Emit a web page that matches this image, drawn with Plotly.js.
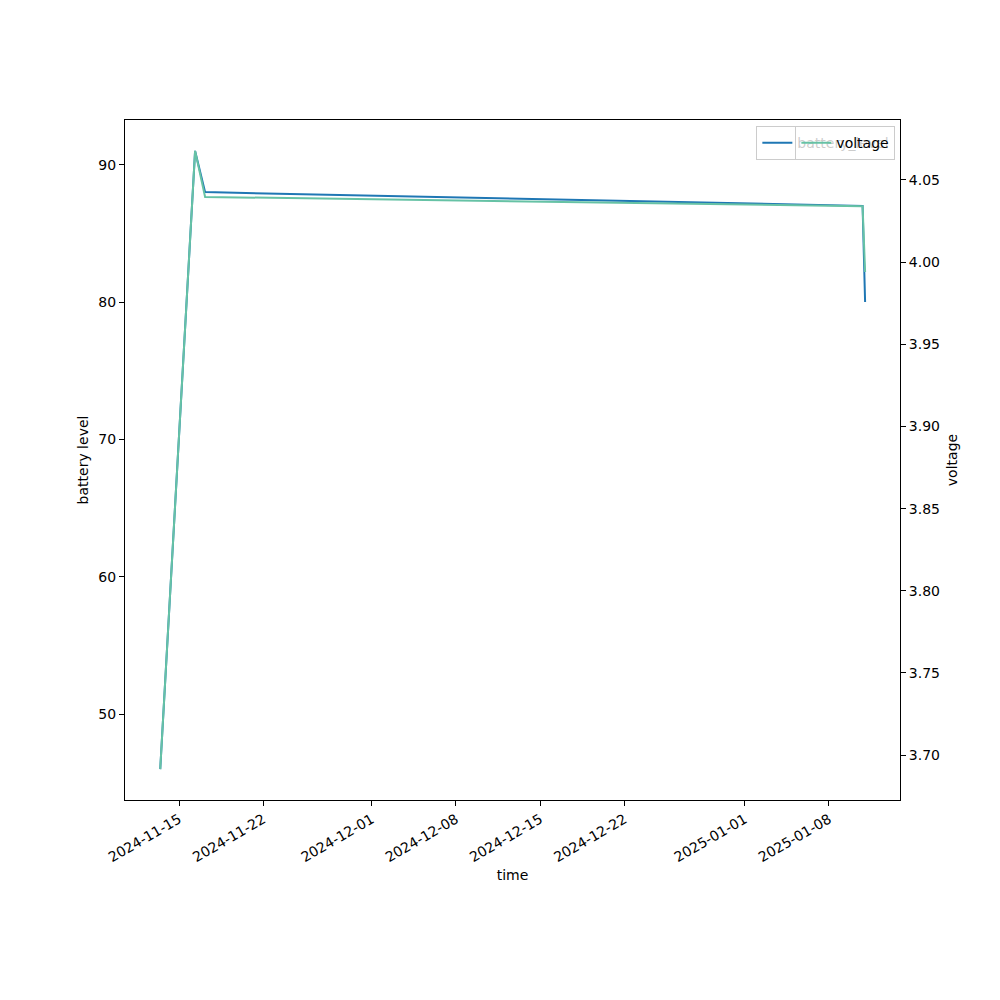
<!DOCTYPE html>
<html>
<head>
<meta charset="utf-8">
<script src="https://cdn.plot.ly/plotly-3.0.1.min.js"></script>
<style>html,body{margin:0;padding:0;background:#fff}#chart{width:1000px;height:1000px}</style>
</head>
<body>
<div id="chart"></div>
<script>
var times = ["2024-11-13 10:30", "2024-11-16 08:00", "2024-11-17 04:00", "2025-01-10 19:00", "2025-01-11 00:00"];
var batteryLevel = [46, 91, 88, 87, 80];
var voltage = [3.6915, 4.0677, 4.0397, 4.0340, 3.994];
var tickDates = ["2024-11-15", "2024-11-22", "2024-12-01", "2024-12-08", "2024-12-15", "2024-12-22", "2025-01-01", "2025-01-08"];
var leftTicks = [50, 60, 70, 80, 90];
var rightTicks = [3.70, 3.75, 3.80, 3.85, 3.90, 3.95, 4.00, 4.05];

var font = {family: "DejaVu Sans", size: 14, color: "#000"};

var traces = [
  {x: times, y: batteryLevel, type: "scatter", mode: "lines", name: "battery_level",
   line: {color: "#1f77b4", width: 2}, yaxis: "y", legend: "legend"},
  {x: times, y: voltage, type: "scatter", mode: "lines", name: "voltage",
   line: {color: "#66c2a5", width: 2}, yaxis: "y2", legend: "legend2"}
];

var layout = {
  width: 1000, height: 1000,
  margin: {l: 125, r: 100, t: 120, b: 200},
  paper_bgcolor: "#fff", plot_bgcolor: "#fff",
  font: font,
  showlegend: true,
  xaxis: {
    type: "date",
    range: ["2024-11-10 12:14", "2025-01-13 21:36"],
    tickvals: tickDates, ticktext: tickDates,
    tickangle: -30,
    ticks: "outside", ticklen: 5, tickwidth: 1, tickcolor: "#000",
    showline: true, linecolor: "#000", linewidth: 1, mirror: true,
    showgrid: false, zeroline: false,
    tickfont: font,
    title: {text: "time", font: font, standoff: 6}
  },
  yaxis: {
    range: [43.75, 93.25],
    tickvals: leftTicks,
    ticks: "outside", ticklen: 5, tickwidth: 1, tickcolor: "#000",
    showline: true, linecolor: "#000", linewidth: 1,
    showgrid: false, zeroline: false,
    tickfont: font,
    title: {text: "battery level", font: font, standoff: 6}
  },
  yaxis2: {
    overlaying: "y", side: "right",
    range: [3.6727, 4.0865],
    tickvals: rightTicks, tickformat: ".2f",
    ticks: "outside", ticklen: 5, tickwidth: 1, tickcolor: "#000",
    showline: true, linecolor: "#000", linewidth: 1,
    showgrid: false, zeroline: false,
    tickfont: font,
    title: {text: "voltage", font: font, standoff: 8}
  },
  legend: {
    x: 0.994, y: 0.991, xanchor: "right", yanchor: "top",
    bgcolor: "rgba(255,255,255,0.8)", bordercolor: "#cccccc", borderwidth: 1,
    font: font, itemwidth: 30
  },
  legend2: {
    x: 0.994, y: 0.991, xanchor: "right", yanchor: "top",
    bgcolor: "rgba(255,255,255,0.8)", bordercolor: "#cccccc", borderwidth: 1,
    font: font, itemwidth: 30
  }
};

Plotly.newPlot("chart", traces, layout, {displayModeBar: false});
</script>
</body>
</html>
